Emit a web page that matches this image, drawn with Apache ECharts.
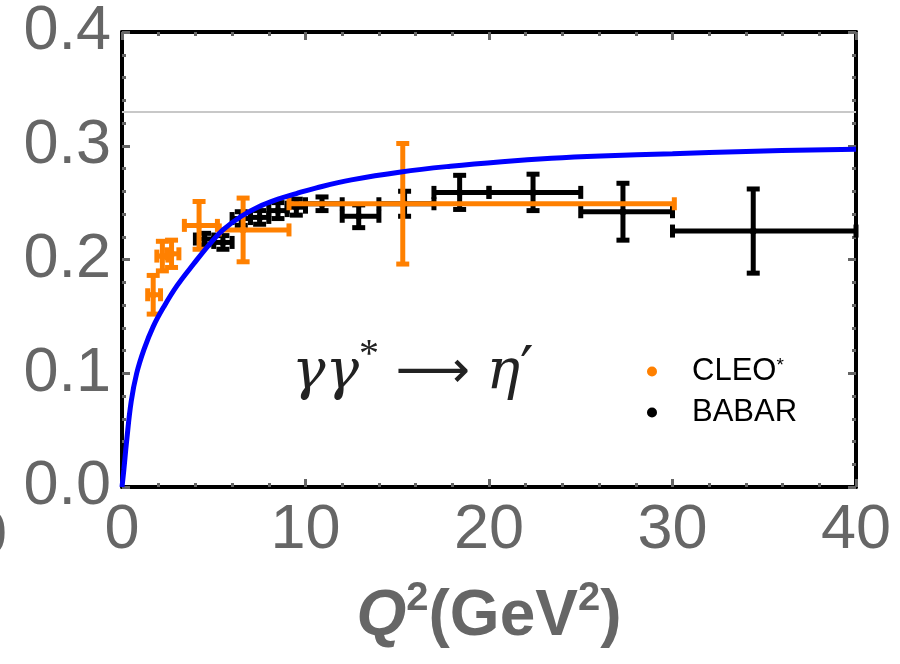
<!DOCTYPE html>
<html>
<head>
<meta charset="utf-8">
<script src="https://cdn.jsdelivr.net/npm/echarts@6/dist/echarts.min.js"></script>
<style>html,body{margin:0;padding:0;background:#fff}#c{width:900px;height:664px}</style>
</head>
<body>
<div id="c"></div>
<script>
// ---- Data ----
const xTicks = [0, 10, 20, 30, 40];
const yTicks = [0.0, 0.1, 0.2, 0.3, 0.4];
const asymptote = 1 / 3;

// Theory curve
const theoryQ2 = [0, 0.1, 0.25, 0.5, 0.8, 1.2, 1.7, 2.3, 3.0, 3.9, 4.8, 5.5, 6.5, 7.4, 8.5, 9.5, 10.6, 12.5, 15.2, 17.9, 20.7, 23.4, 26.1, 30, 34, 40];
const theoryF  = [0, 0.015, 0.04, 0.075, 0.100, 0.121, 0.141, 0.159, 0.177, 0.196, 0.214, 0.226, 0.238, 0.246, 0.253, 0.258, 0.263, 0.270, 0.277, 0.282, 0.286, 0.289, 0.291, 0.293, 0.295, 0.297];

// CLEO*
const cleoQ2   = [1.7, 2.2, 2.7, 4.2, 6.6, 15.3];
const cleoQ2Lo = [1.4, 1.9, 2.45, 3.4, 5.3, 9.1];
const cleoQ2Hi = [2.1, 2.5, 3.1, 5.2, 9.1, 30.1];
const cleoF    = [0.169, 0.203, 0.205, 0.230, 0.226, 0.249];
const cleoErr  = [0.017, 0.013, 0.012, 0.021, 0.028, 0.053];

// BABAR
const babarQ2   = [4.5, 5.5, 6.5, 7.5, 8.5, 9.5, 10.9, 12.9, 15.4, 18.4, 22.4, 27.3, 34.4];
const babarQ2Lo = [4, 5, 6, 7, 8, 9, 10, 12, 14, 17, 20, 25, 30];
const babarQ2Hi = [5, 6, 7, 8, 9, 10, 12, 14, 17, 20, 25, 30, 40];
const babarF    = [0.218, 0.215, 0.236, 0.237, 0.243, 0.246, 0.249, 0.238, 0.249, 0.259, 0.259, 0.242, 0.225];
const babarErr  = [0.005, 0.006, 0.006, 0.006, 0.007, 0.007, 0.006, 0.010, 0.011, 0.015, 0.016, 0.025, 0.037];

// ---- Build ----
function rows(q, lo, hi, f, e) {
  return q.map((v, i) => [v, f[i], lo[i], hi[i], f[i] - e[i], f[i] + e[i]]);
}
function errRender(color) {
  return function (params, api) {
    const c = api.coord([api.value(0), api.value(1)]);
    const l = api.coord([api.value(2), api.value(1)]);
    const r = api.coord([api.value(3), api.value(1)]);
    const b = api.coord([api.value(0), api.value(4)]);
    const t = api.coord([api.value(0), api.value(5)]);
    const cap = 6.5;
    const st = { stroke: color, lineWidth: 5, lineCap: 'butt' };
    return {
      type: 'group',
      children: [
        { type: 'line', shape: { x1: l[0], y1: l[1], x2: r[0], y2: r[1] }, style: st },
        { type: 'line', shape: { x1: l[0], y1: l[1] - cap, x2: l[0], y2: l[1] + cap }, style: st },
        { type: 'line', shape: { x1: r[0], y1: r[1] - cap, x2: r[0], y2: r[1] + cap }, style: st },
        { type: 'line', shape: { x1: b[0], y1: b[1], x2: t[0], y2: t[1] }, style: st },
        { type: 'line', shape: { x1: b[0] - cap, y1: b[1], x2: b[0] + cap, y2: b[1] }, style: st },
        { type: 'line', shape: { x1: t[0] - cap, y1: t[1], x2: t[0] + cap, y2: t[1] }, style: st },
        { type: 'circle', shape: { cx: c[0], cy: c[1], r: 3.5 }, style: { fill: color } }
      ]
    };
  };
}

const gray = '#666666';
const labelFont = { fontFamily: 'Liberation Sans, Arial, sans-serif', fontSize: 63, color: gray };
function axisCommon(showLabel, isX) {
  return {
    type: 'value',
    axisLine: { show: true, onZero: false, lineStyle: { color: '#000', width: 4 } },
    axisTick: { show: true, inside: true, length: 8, lineStyle: { color: gray, width: 3 } },
    minorTick: { show: true, splitNumber: 5, length: 4, lineStyle: { color: gray, width: 3 } },
    splitLine: { show: false },
    axisLabel: showLabel ? Object.assign({ show: true, margin: isX ? 12 : 11,
      formatter: isX ? (v => String(v)) : (v => v.toFixed(1)) }, labelFont) : { show: false }
  };
}

const chart = echarts.init(document.getElementById('c'), null, { renderer: 'canvas' });
chart.setOption({
  backgroundColor: '#fff',
  animation: false,
  grid: { left: 122, right: 44, top: 32, bottom: 177, containLabel: false },
  xAxis: [
    Object.assign(axisCommon(true, true), { min: xTicks[0], max: xTicks[xTicks.length - 1], interval: 10, position: 'bottom',
      name: '{q|Q}{s|2}{n|(GeV}{s|2}{n|)}', nameLocation: 'middle', nameGap: 92,
      nameTextStyle: { rich: {
        q: { fontFamily: 'Liberation Sans, Arial', fontSize: 64, fontWeight: 'bold', fontStyle: 'italic', color: gray, lineHeight: 76 },
        n: { fontFamily: 'Liberation Sans, Arial', fontSize: 64, fontWeight: 'bold', color: gray, lineHeight: 76 },
        s: { fontFamily: 'Liberation Sans, Arial', fontSize: 40, fontWeight: 'bold', color: gray, verticalAlign: 'top', lineHeight: 76, padding: [0, 0, 32, 0] }
      } } }),
    Object.assign(axisCommon(false, true), { min: xTicks[0], max: xTicks[xTicks.length - 1], interval: 10, position: 'top' })
  ],
  yAxis: [
    Object.assign(axisCommon(true, false), { min: yTicks[0], max: yTicks[yTicks.length - 1], interval: 0.1, position: 'left' }),
    Object.assign(axisCommon(false, false), { min: yTicks[0], max: yTicks[yTicks.length - 1], interval: 0.1, position: 'right' })
  ],
  legend: {
    orient: 'vertical', left: 642, top: 351, itemGap: 10,
    itemWidth: 10, itemHeight: 10,
    data: [{ name: 'CLEO*', icon: 'circle' }, { name: 'BABAR', icon: 'circle' }],
    formatter: function (n) { return n === 'CLEO*' ? 'CLEO{s|*}' : n; },
    textStyle: { fontFamily: 'Liberation Sans, Arial', fontSize: 31, color: '#000', padding: [0, 0, 0, 30],
      rich: { s: { fontSize: 19, verticalAlign: 'top', padding: [0, 0, 10, 0], color: '#000' } } }
  },
  graphic: [
    { type: 'text', left: 292, top: 335, z: 10,
      style: { text: '{i|γγ}{s|*}{n| ⟶ }{i|η}{p|′}',
        rich: {
          i: { fontFamily: 'DejaVu Serif, Liberation Serif, serif', fontStyle: 'italic', fontSize: 56, fill: '#222', lineHeight: 76 },
          s: { fontFamily: 'Liberation Serif, serif', fontSize: 40, fill: '#222', verticalAlign: 'top', lineHeight: 76, padding: [0, 0, 26, 0] },
          n: { fontFamily: 'DejaVu Sans, serif', fontSize: 52, fill: '#222', lineHeight: 76 },
          p: { fontFamily: 'DejaVu Serif, serif', fontSize: 60, fill: '#222', lineHeight: 76 }
        } } },
    { type: 'text', left: -28, top: 505, style: { text: '0', fontFamily: 'Liberation Sans, Arial', fontSize: 63, fill: gray } }
  ],
  series: [
    { name: 'BABAR', type: 'custom', xAxisIndex: 0, yAxisIndex: 0, z: 2,
      itemStyle: { color: '#000' }, renderItem: errRender('#000'),
      encode: { x: [0, 2, 3], y: [1, 4, 5] },
      data: rows(babarQ2, babarQ2Lo, babarQ2Hi, babarF, babarErr) },
    { name: 'CLEO*', type: 'custom', xAxisIndex: 0, yAxisIndex: 0, z: 3,
      itemStyle: { color: '#ff8000' }, renderItem: errRender('#ff8000'),
      encode: { x: [0, 2, 3], y: [1, 4, 5] },
      data: rows(cleoQ2, cleoQ2Lo, cleoQ2Hi, cleoF, cleoErr) },
    { name: 'theory', type: 'line', xAxisIndex: 0, yAxisIndex: 0, z: 4,
      smooth: 0.4, showSymbol: false, symbol: 'none',
      lineStyle: { color: '#0000ff', width: 5 },
      data: theoryQ2.map((q, i) => [q, theoryF[i]]),
      markLine: { silent: true, symbol: ['none', 'none'], label: { show: false },
        lineStyle: { color: '#c8c8c8', width: 2, type: 'solid' },
        data: [{ yAxis: asymptote }] } }
  ]
});
</script>
</body>
</html>
